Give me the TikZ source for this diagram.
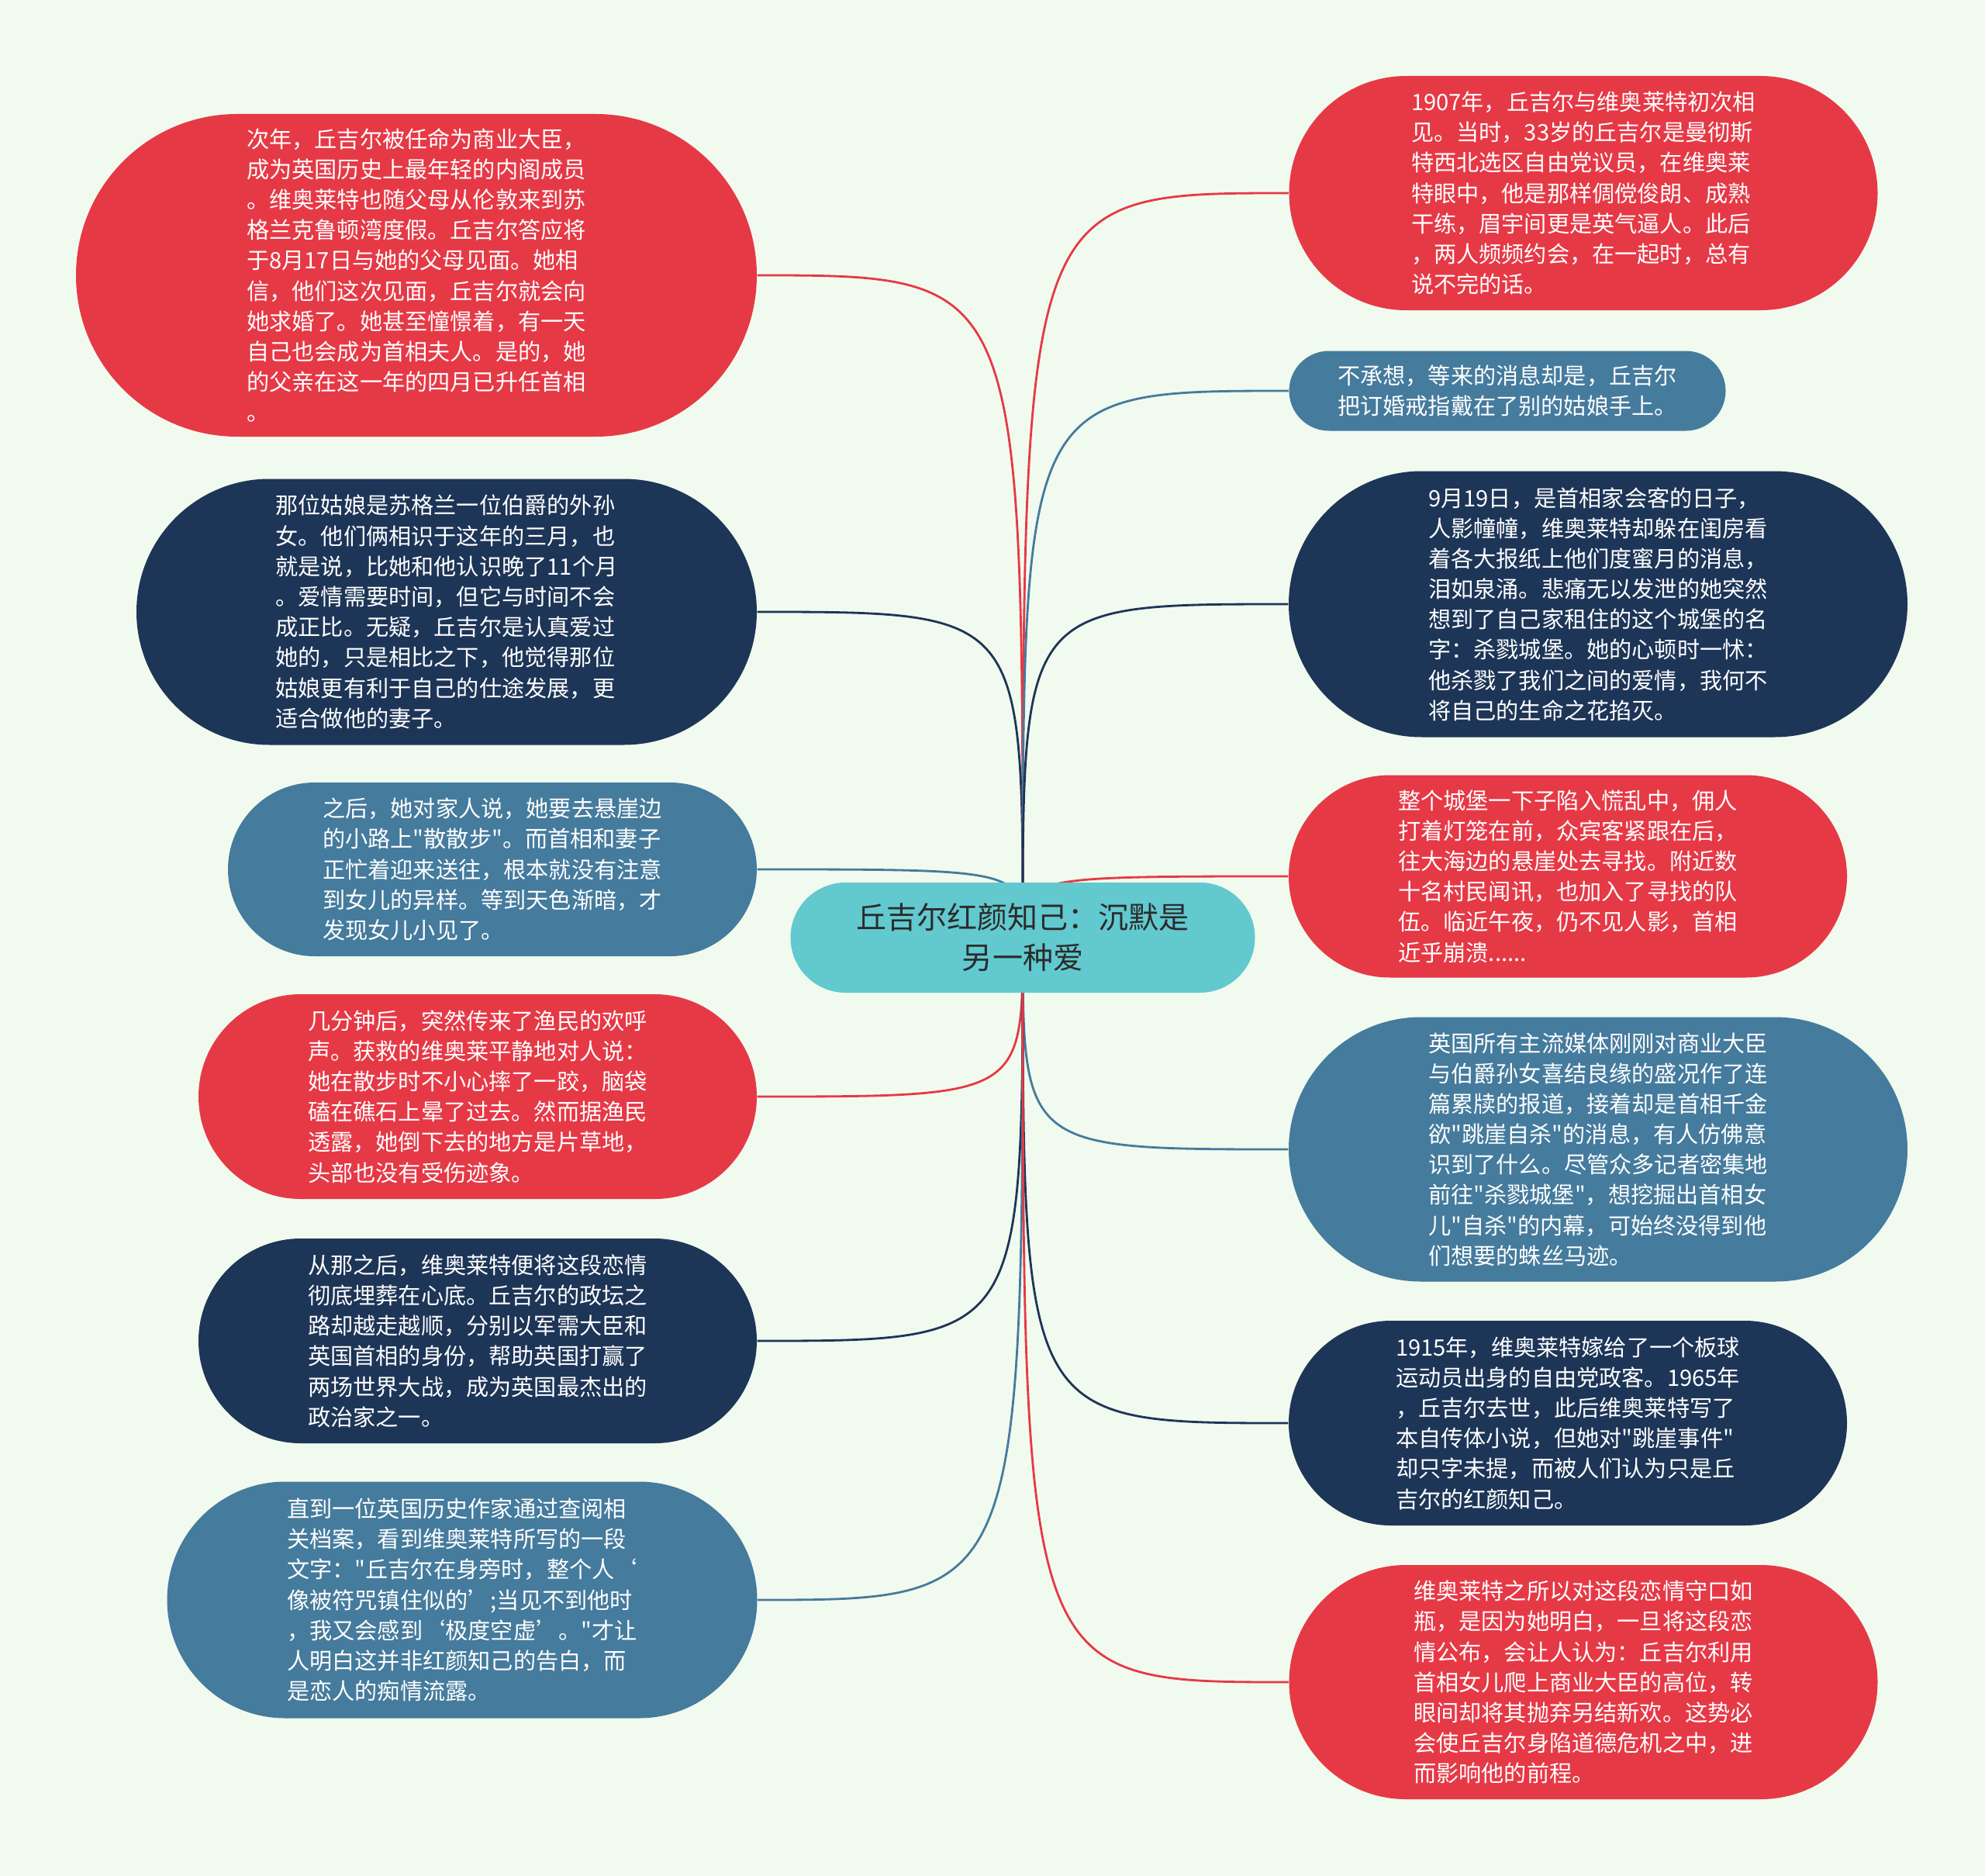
\documentclass[tikz,border=0pt]{standalone}
\usepackage{fontspec}
\newfontfamily\cjkfont{Noto Sans CJK SC}
\definecolor{LeafRed}{HTML}{E63946}
\definecolor{LeafNavy}{HTML}{1D3557}
\definecolor{LeafSteel}{HTML}{457B9D}
\definecolor{TopicTeal}{HTML}{62C9CF}
\definecolor{TopicInk}{HTML}{2B2B2B}
\definecolor{PaperMint}{HTML}{F1FAEE}
\usepackage{tikz}

\begin{document}
\begin{tikzpicture}[
        leaf/.style={rectangle, text=white, align=left, inner sep=0pt,
                     font=\cjkfont\fontsize{8.3}{11.15}\selectfont},
        pill/.style 2 args={minimum width=#1, minimum height=#2, rounded corners=#2/2},
        topicbox/.style={rectangle, fill=TopicTeal, text=TopicInk, align=center, inner sep=0pt,
                         font=\cjkfont\fontsize{11.1}{14.8}\selectfont},
        link/.style={line width=0.8pt}
    ]
        \fill[PaperMint] (0,0) rectangle (25.6,-24.19);
        \coordinate (hub) at (13.19,-12.09);

        % left column
        \node[leaf, pill={8.78cm}{4.16cm}, fill=LeafRed] (appointed) at (5.37,-3.55) {次年，丘吉尔被任命为商业大臣，\\成为英国历史上最年轻的内阁成员\\。维奥莱特也随父母从伦敦来到苏\\格兰克鲁顿湾度假。丘吉尔答应将\\于8月17日与她的父母见面。她相\\信，他们这次见面，丘吉尔就会向\\她求婚了。她甚至憧憬着，有一天\\自己也会成为首相夫人。是的，她\\的父亲在这一年的四月已升任首相\\。};
        \node[leaf, pill={8.00cm}{3.43cm}, fill=LeafNavy] (rival) at (5.76,-7.89) {那位姑娘是苏格兰一位伯爵的外孙\\女。他们俩相识于这年的三月，也\\就是说，比她和他认识晚了11个月\\。爱情需要时间，但它与时间不会\\成正比。无疑，丘吉尔是认真爱过\\她的，只是相比之下，他觉得那位\\姑娘更有利于自己的仕途发展，更\\适合做他的妻子。};
        \node[leaf, pill={6.82cm}{2.24cm}, fill=LeafSteel] (walk) at (6.35,-11.21) {之后，她对家人说，她要去悬崖边\\的小路上"散散步"。而首相和妻子\\正忙着迎来送往，根本就没有注意\\到女儿的异样。等到天色渐暗，才\\发现女儿小见了。};
        \node[leaf, pill={7.20cm}{2.64cm}, fill=LeafRed] (rescue) at (6.16,-14.14) {几分钟后，突然传来了渔民的欢呼\\声。获救的维奥莱平静地对人说：\\她在散步时不小心摔了一跤，脑袋\\磕在礁石上晕了过去。然而据渔民\\透露，她倒下去的地方是片草地，\\头部也没有受伤迹象。};
        \node[leaf, pill={7.20cm}{2.64cm}, fill=LeafNavy] (buried) at (6.16,-17.29) {从那之后，维奥莱特便将这段恋情\\彻底埋葬在心底。丘吉尔的政坛之\\路却越走越顺，分别以军需大臣和\\英国首相的身份，帮助英国打赢了\\两场世界大战，成为英国最杰出的\\政治家之一。};
        \node[leaf, pill={7.61cm}{3.05cm}, fill=LeafSteel] (archive) at (5.96,-20.63) {直到一位英国历史作家通过查阅相\\关档案，看到维奥莱特所写的一段\\文字："丘吉尔在身旁时，整个人‘\\像被符咒镇住似的’;当见不到他时\\，我又会感到‘极度空虚’。"才让\\人明白这并非红颜知己的告白，而\\是恋人的痴情流露。};

        % right column
        \node[leaf, pill={7.59cm}{3.02cm}, fill=LeafRed] (meeting) at (20.42,-2.49) {1907年，丘吉尔与维奥莱特初次相\\见。当时，33岁的丘吉尔是曼彻斯\\特西北选区自由党议员，在维奥莱\\特眼中，他是那样倜傥俊朗、成熟\\干练，眉宇间更是英气逼人。此后\\，两人频频约会，在一起时，总有\\说不完的话。};
        \node[leaf, pill={5.63cm}{1.03cm}, fill=LeafSteel] (ring) at (19.44,-5.04) {不承想，等来的消息却是，丘吉尔\\把订婚戒指戴在了别的姑娘手上。};
        \node[leaf, pill={7.98cm}{3.43cm}, fill=LeafNavy] (despair) at (20.61,-7.79) {9月19日，是首相家会客的日子，\\人影幢幢，维奥莱特却躲在闺房看\\着各大报纸上他们度蜜月的消息，\\泪如泉涌。悲痛无以发泄的她突然\\想到了自己家租住的这个城堡的名\\字：杀戮城堡。她的心顿时一怵：\\他杀戮了我们之间的爱情，我何不\\将自己的生命之花掐灭。};
        \node[leaf, pill={7.20cm}{2.61cm}, fill=LeafRed] (search) at (20.22,-11.30) {整个城堡一下子陷入慌乱中，佣人\\打着灯笼在前，众宾客紧跟在后，\\往大海边的悬崖处去寻找。附近数\\十名村民闻讯，也加入了寻找的队\\伍。临近午夜，仍不见人影，首相\\近乎崩溃......};
        \node[leaf, pill={7.98cm}{3.41cm}, fill=LeafSteel] (media) at (20.61,-14.82) {英国所有主流媒体刚刚对商业大臣\\与伯爵孙女喜结良缘的盛况作了连\\篇累牍的报道，接着却是首相千金\\欲"跳崖自杀"的消息，有人仿佛意\\识到了什么。尽管众多记者密集地\\前往"杀戮城堡"，想挖掘出首相女\\儿"自杀"的内幕，可始终没得到他\\们想要的蛛丝马迹。};
        \node[leaf, pill={7.20cm}{2.64cm}, fill=LeafNavy] (married) at (20.22,-18.35) {1915年，维奥莱特嫁给了一个板球\\运动员出身的自由党政客。1965年\\，丘吉尔去世，此后维奥莱特写了\\本自传体小说，但她对"跳崖事件"\\却只字未提，而被人们认为只是丘\\吉尔的红颜知己。};
        \node[leaf, pill={7.59cm}{3.02cm}, fill=LeafRed] (silence) at (20.42,-21.69) {维奥莱特之所以对这段恋情守口如\\瓶，是因为她明白，一旦将这段恋\\情公布，会让人认为：丘吉尔利用\\首相女儿爬上商业大臣的高位，转\\眼间却将其抛弃另结新欢。这势必\\会使丘吉尔身陷道德危机之中，进\\而影响他的前程。};

        % links from the hub
        \draw[link, LeafRed] (hub) .. controls (hub |- appointed.east) .. (appointed.east);
        \draw[link, LeafNavy] (hub) .. controls (hub |- rival.east) .. (rival.east);
        \draw[link, LeafSteel] (hub) .. controls (hub |- walk.east) .. (walk.east);
        \draw[link, LeafRed] (hub) .. controls (hub |- rescue.east) .. (rescue.east);
        \draw[link, LeafNavy] (hub) .. controls (hub |- buried.east) .. (buried.east);
        \draw[link, LeafSteel] (hub) .. controls (hub |- archive.east) .. (archive.east);
        \draw[link, LeafRed] (hub) .. controls (hub |- meeting.west) .. (meeting.west);
        \draw[link, LeafSteel] (hub) .. controls (hub |- ring.west) .. (ring.west);
        \draw[link, LeafNavy] (hub) .. controls (hub |- despair.west) .. (despair.west);
        \draw[link, LeafRed] (hub) .. controls (hub |- search.west) .. (search.west);
        \draw[link, LeafSteel] (hub) .. controls (hub |- media.west) .. (media.west);
        \draw[link, LeafNavy] (hub) .. controls (hub |- married.west) .. (married.west);
        \draw[link, LeafRed] (hub) .. controls (hub |- silence.west) .. (silence.west);

        \node[topicbox, pill={5.99cm}{1.42cm}] (topic) at (hub) {丘吉尔红颜知己：沉默是\\另一种爱};
    \end{tikzpicture}
\end{document}
